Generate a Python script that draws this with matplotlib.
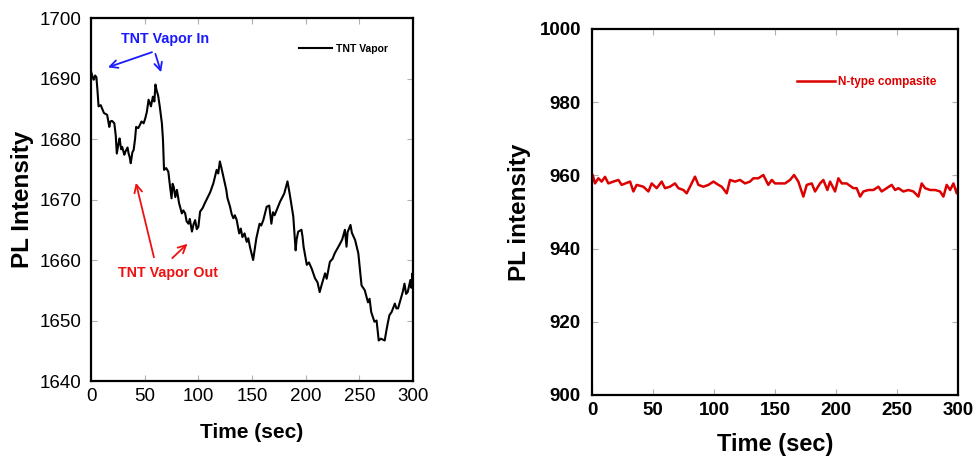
import matplotlib.pyplot as plt

plt.rcParams["font.family"] = ["Liberation Sans", "DejaVu Sans"]

# ── data: TNT vapor response (left) ──────────────────────────────────────────
tnt_time = [0, 1.2, 2.5, 3.8, 5, 6, 7, 9, 12, 15, 17, 18, 19.5, 21.7, 23, 24,
            25.5, 26.6, 28, 29, 31, 32, 34, 35, 36, 37, 38.5, 39.7, 41, 42, 44,
            46, 47, 49, 50.5, 52, 53.6, 55.8, 57.6, 59, 60, 61, 62.5, 64, 66,
            67, 68, 70, 72, 73.5, 75, 76, 77, 78.5, 80, 82, 84.6, 86, 87.7, 89,
            90.8, 92, 94, 95.5, 97, 98.5, 100, 101.6, 104, 106, 109, 111, 114,
            117, 118.5, 120, 121.5, 123, 126, 127, 129.5, 131, 132.6, 134,
            135.7, 138, 139.5, 141, 143, 145, 146.5, 148, 151, 154, 157, 158.5,
            160.5, 163.6, 166, 168, 169.5, 171, 173.5, 176, 180, 183, 185,
            188.4, 190.6, 191.5, 193, 196, 197, 198, 201, 203, 205.5, 208.6,
            211, 213, 215, 218, 219.5, 222.5, 225, 227, 232, 234, 236.5, 238,
            239, 241.7, 243, 246, 249, 252, 255, 258, 259.5, 261, 264, 266,
            268, 270, 273.6, 275, 276.7, 278, 280, 283, 284.5, 286, 289, 290.5,
            292, 293.5, 295, 297.5, 298.5, 299.4, 300]
tnt_pl = [1691.2, 1690.4, 1689.8, 1690.5, 1690.2, 1688.0, 1685.4, 1685.6,
          1684.3, 1684.0, 1682.0, 1682.9, 1683.0, 1682.6, 1680.6, 1677.6,
          1679.2, 1680.1, 1678.3, 1678.7, 1677.4, 1677.9, 1678.6, 1677.6,
          1677.0, 1676.0, 1677.8, 1678.2, 1680.0, 1682.0, 1681.8, 1682.5,
          1682.9, 1682.6, 1683.4, 1684.5, 1686.5, 1685.4, 1687.0, 1686.2,
          1689.0, 1688.1, 1687.2, 1685.4, 1682.6, 1679.9, 1674.9, 1675.2,
          1674.6, 1672.3, 1670.2, 1672.6, 1672.1, 1670.4, 1671.6, 1669.4,
          1667.7, 1668.2, 1667.7, 1666.4, 1666.0, 1666.8, 1664.7, 1665.9,
          1666.6, 1665.1, 1665.5, 1668.0, 1668.6, 1669.4, 1670.5, 1671.2,
          1672.7, 1674.9, 1674.3, 1676.3, 1675.2, 1674.0, 1671.6, 1670.3,
          1668.8, 1667.6, 1666.9, 1667.4, 1666.6, 1664.4, 1665.2, 1663.8,
          1664.4, 1663.0, 1663.6, 1662.2, 1660.0, 1663.6, 1666.0, 1665.7,
          1666.6, 1668.8, 1669.0, 1666.0, 1667.9, 1667.4, 1668.5, 1669.6,
          1671.0, 1673.0, 1671.0, 1667.2, 1661.6, 1663.4, 1664.7, 1665.0,
          1663.9, 1662.2, 1659.2, 1659.6, 1658.6, 1657.0, 1656.3, 1654.7,
          1656.0, 1657.8, 1656.9, 1659.7, 1660.2, 1661.1, 1662.7, 1663.4,
          1665.0, 1662.2, 1664.6, 1665.8, 1664.5, 1663.3, 1661.1, 1655.8,
          1655.0, 1653.0, 1653.6, 1651.4, 1649.8, 1650.0, 1646.7, 1647.0,
          1646.7, 1648.2, 1649.8, 1650.9, 1651.4, 1652.8, 1652.0, 1652.0,
          1653.9, 1654.8, 1656.1, 1654.4, 1654.7, 1656.7, 1655.4, 1657.8,
          1657.0]

# ── data: N-type composite (right) ───────────────────────────────────────────
comp_time = [0, 0.55, 2.46, 5.19, 7.92, 10.66, 13.39, 17.49, 21.6, 24.3, 31.2,
             33.9, 36.6, 42.1, 46.2, 48.9, 53.0, 57.1, 59.8, 63.9, 68.0, 70.8,
             74.9, 77.6, 80.3, 84.4, 87.2, 91.3, 95.4, 99.5, 103.6, 106.3,
             110.4, 113.1, 117.2, 121.3, 125.4, 129.5, 132.2, 136.3, 140.4,
             144.5, 147.3, 150.0, 154.1, 158.2, 162.3, 165.6, 169.1, 173.2,
             176.0, 180.1, 182.8, 186.9, 189.6, 192.9, 195.1, 199.2, 201.9,
             204.7, 208.7, 214.2, 216.9, 219.7, 222.4, 226.5, 230.6, 234.7,
             237.4, 241.5, 245.6, 248.4, 251.1, 255.2, 259.3, 263.4, 267.5,
             270.2, 273.0, 277.1, 281.2, 285.3, 288.0, 290.7, 293.5, 296.2,
             298.9, 300]
comp_pl = [958.5, 960.1, 957.8, 959.2, 958.3, 959.6, 957.8, 958.3, 958.75,
           957.4, 958.3, 955.6, 957.4, 956.9, 955.6, 957.8, 956.5, 958.3,
           956.5, 956.9, 957.8, 956.5, 956.0, 955.1, 956.9, 959.65, 957.4,
           956.9, 957.4, 958.3, 957.4, 956.9, 955.1, 958.75, 958.3, 958.75,
           957.8, 958.3, 959.2, 959.2, 960.1, 957.4, 958.75, 957.8, 957.8,
           957.8, 958.75, 960.1, 958.3, 954.2, 957.4, 957.8, 955.6, 957.8,
           958.75, 956.0, 958.3, 955.6, 959.2, 957.8, 957.8, 956.5, 956.5,
           954.2, 955.6, 956.0, 956.0, 956.9, 955.6, 956.5, 957.4, 956.0,
           956.5, 955.6, 956.0, 955.6, 954.2, 957.8, 956.5, 956.0, 956.0,
           955.6, 954.2, 957.4, 956.0, 957.8, 955.1, 956.5]

x_ticks = [0, 50, 100, 150, 200, 250, 300]
tnt_yticks = [1640, 1650, 1660, 1670, 1680, 1690, 1700]
comp_yticks = [900, 920, 940, 960, 980, 1000]

fig = plt.figure(figsize=(9.8, 4.61), dpi=100)
ax1 = fig.add_axes([0.0929, 0.1735, 0.3286, 0.7874])
ax2 = fig.add_axes([0.6041, 0.1432, 0.3735, 0.7940])


def style_axes(ax, tick_weight, pad):
    for sp in ax.spines.values():
        sp.set_linewidth(1.6)
        sp.set_color("black")
    ax.tick_params(direction="in", length=4, width=0.8, color="#b0b0b0",
                   top=True, right=True, labelsize=13.5)
    ax.tick_params(axis="y", pad=pad)
    ax.tick_params(axis="x", pad=5)
    for lab in ax.get_xticklabels() + ax.get_yticklabels():
        lab.set_fontweight(tick_weight)


# ── left panel ───────────────────────────────────────────────────────────────
ax1.plot(tnt_time, tnt_pl, color="black", linewidth=1.5, label="TNT Vapor")
ax1.set_xlim(0, 300)
ax1.set_ylim(1640, 1700)
ax1.set_xticks(x_ticks)
ax1.set_yticks(tnt_yticks)
style_axes(ax1, "normal", 7)
ax1.set_xlabel("Time (sec)", fontsize=15, fontweight="bold", labelpad=13)
ax1.set_ylabel("PL Intensity", fontsize=17.5, fontweight="bold", labelpad=4)
ax1.legend(loc="upper right", bbox_to_anchor=(0.95, 0.955), frameon=False,
           handlelength=3.2, handletextpad=0.3,
           prop={"size": 7.5, "weight": "bold"})

blue = "#1a1aff"
ann_font = dict(fontsize=10.3, fontweight="bold")
ax1.text(69, 1696.6, "TNT Vapor In", color=blue, ha="center", va="center",
         **ann_font)
for head in [(13.3, 1691.7), (66, 1690.6)]:
    ax1.annotate("", xy=head, xytext=(59.2, 1694.5),
                 arrowprops=dict(arrowstyle="->", color=blue, lw=1.3,
                                 mutation_scale=14))

red = "#ee1111"
ax1.text(72, 1657.8, "TNT Vapor Out", color=red, ha="center", va="center",
         **ann_font)
ax1.annotate("", xy=(41.2, 1673.2), xytext=(59.2, 1660),
             arrowprops=dict(arrowstyle="->", color=red, lw=1.3,
                             mutation_scale=14))
ax1.annotate("", xy=(91.7, 1663), xytext=(73.8, 1660),
             arrowprops=dict(arrowstyle="->", color=red, lw=1.3,
                             mutation_scale=14))

# ── right panel ──────────────────────────────────────────────────────────────
ax2.plot(comp_time, comp_pl, color="#dd0000", linewidth=1.8,
         label="N-type compasite")
ax2.set_xlim(0, 300)
ax2.set_ylim(900, 1000)
ax2.set_xticks(x_ticks)
ax2.set_yticks(comp_yticks)
style_axes(ax2, "bold", 8)
ax2.set_xlabel("Time (sec)", fontsize=17, fontweight="bold", labelpad=10)
ax2.set_ylabel("PL intensity", fontsize=17.5, fontweight="bold", labelpad=6)
ax2.legend(loc="upper right", bbox_to_anchor=(0.97, 0.9), frameon=False,
           handlelength=3.2, handletextpad=0.3, labelcolor="#dd0000",
           prop={"size": 8.5, "weight": "bold"})

fig.savefig("out.png", dpi=100)
